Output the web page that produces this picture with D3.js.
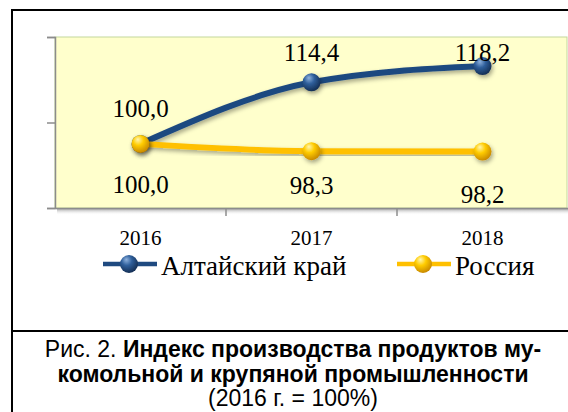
<!DOCTYPE html>
<html>
<head>
<meta charset="utf-8">
<script src="https://cdn.jsdelivr.net/npm/d3@7"></script>
<style>
  body { margin: 0; background: #fff; overflow: hidden; }
  svg { display: block; }
</style>
</head>
<body>
<div id="chart"></div>
<script>
// data
const years = ['2016', '2017', '2018'];
const altai = [100.0, 114.4, 118.2];
const russia = [100.0, 98.3, 98.2];
const seriesNames = ['Алтайский край', 'Россия'];
const yTicks = [85, 105, 125];

// label nudges (px from marker, baseline)
const altaiLabelDy = [-27, -21, -5];
const russiaLabelDy = [49, 43, 51];

const W = 568, H = 412;
const svg = d3.select('#chart').append('svg')
    .attr('width', W)
    .attr('height', H);

const defs = svg.append('defs');

function sphere(id, light, mid, dark) {
    const g = defs.append('radialGradient')
        .attr('id', id)
        .attr('cx', '40%').attr('cy', '35%').attr('r', '65%')
        .attr('fx', '35%').attr('fy', '25%');
    g.append('stop').attr('offset', '0%').attr('stop-color', light);
    g.append('stop').attr('offset', '45%').attr('stop-color', mid);
    g.append('stop').attr('offset', '100%').attr('stop-color', dark);
}
sphere('blueBall', '#8fb2de', '#2f5f9b', '#142f55');
sphere('yellowBall', '#fff6b0', '#ffcc00', '#c98a00');

const shadow = defs.append('filter').attr('id', 'shadow')
    .attr('x', '-50%').attr('y', '-50%').attr('width', '200%').attr('height', '200%');
shadow.append('feDropShadow')
    .attr('dx', 1.5).attr('dy', 2.5).attr('stdDeviation', 2)
    .attr('flood-color', '#000').attr('flood-opacity', 0.35);

const axShadow = defs.append('linearGradient').attr('id', 'axShadow')
    .attr('x1', 0).attr('y1', 0).attr('x2', 0).attr('y2', 1);
axShadow.append('stop').attr('offset', '0%').attr('stop-color', '#999').attr('stop-opacity', 0.8);
axShadow.append('stop').attr('offset', '100%').attr('stop-color', '#fff').attr('stop-opacity', 0);

// outer frame
svg.append('path')
    .attr('d', 'M12,' + (H + 5) + 'V10H' + (W + 5))
    .attr('fill', 'none')
    .attr('stroke', '#000')
    .attr('stroke-width', 2);
svg.append('line')
    .attr('x1', 12).attr('x2', W + 5)
    .attr('y1', 331).attr('y2', 331)
    .attr('stroke', '#000')
    .attr('stroke-width', 2);

// plot area
const plot = { left: 55, right: 567, top: 37, bottom: 208 };

const x = d3.scaleBand()
    .domain(years)
    .range([plot.left, plot.left + 3 * 171])
    .padding(0);

const y = d3.scaleLinear()
    .domain([85, 125])
    .range([plot.bottom, plot.top]);

svg.append('rect')
    .attr('x', plot.left).attr('y', plot.top)
    .attr('width', plot.right - plot.left)
    .attr('height', plot.bottom - plot.top)
    .attr('fill', '#ffffcc')
    .attr('stroke', '#c4d79b')
    .attr('stroke-width', 1);

// shadow under axes
svg.append('rect')
    .attr('x', plot.left + 2).attr('y', plot.bottom + 1)
    .attr('width', plot.right - plot.left)
    .attr('height', 6)
    .attr('fill', 'url(#axShadow)');

// y axis, ticks only
const yAxis = svg.append('g')
    .attr('transform', 'translate(' + plot.left + ',0)')
    .call(d3.axisLeft(y).tickValues(yTicks).tickSize(8).tickFormat(''));
yAxis.selectAll('path, line').attr('stroke', '#8c8c8c').attr('stroke-width', 1.5);

// x axis with ticks between categories
const xAxis = svg.append('g')
    .attr('transform', 'translate(0,' + plot.bottom + ')')
    .call(d3.axisBottom(x).tickSize(0).tickPadding(22));
xAxis.select('.domain').attr('stroke', '#8c8c8c').attr('stroke-width', 1.5);
xAxis.selectAll('text')
    .attr('font-family', '"Liberation Serif", "Times New Roman", serif')
    .attr('font-size', 21)
    .attr('fill', '#000');
xAxis.selectAll('.between')
    .data(years.slice(1))
    .enter().append('line')
    .attr('x1', d => x(d)).attr('x2', d => x(d))
    .attr('y1', 0).attr('y2', 8)
    .attr('stroke', '#8c8c8c')
    .attr('stroke-width', 1.5);

const cx = d => x(d) + x.bandwidth() / 2;

const line = d3.line()
    .x((d, i) => cx(years[i]))
    .y(d => y(d))
    .curve(d3.curveMonotoneX);

const series = [
    { name: seriesNames[0], values: altai, color: '#1f4a80', ball: 'url(#blueBall)', dy: altaiLabelDy },
    { name: seriesNames[1], values: russia, color: '#ffc000', ball: 'url(#yellowBall)', dy: russiaLabelDy }
];

series.forEach(s => {
    svg.append('path')
        .datum(s.values)
        .attr('d', line)
        .attr('fill', 'none')
        .attr('stroke', s.color)
        .attr('stroke-width', 6)
        .attr('stroke-linecap', 'round')
        .attr('filter', 'url(#shadow)');
});

series.forEach(s => {
    svg.append('g')
        .selectAll('circle')
        .data(s.values)
        .enter().append('circle')
        .attr('cx', (d, i) => cx(years[i]))
        .attr('cy', d => y(d))
        .attr('r', 9)
        .attr('fill', s.ball)
        .attr('filter', 'url(#shadow)');
});

series.forEach(s => {
    svg.append('g')
        .selectAll('text')
        .data(s.values)
        .enter().append('text')
        .attr('x', (d, i) => cx(years[i]))
        .attr('y', (d, i) => y(d) + s.dy[i])
        .attr('text-anchor', 'middle')
        .attr('font-family', '"Liberation Serif", "Times New Roman", serif')
        .attr('font-size', 25)
        .attr('fill', '#000')
        .text(d => d.toFixed(1).replace('.', ','));
});

// legend
const legendItems = [
    { s: series[0], x: 103 },
    { s: series[1], x: 397 }
];
const legend = svg.append('g');
legendItems.forEach(li => {
    const g = legend.append('g').attr('transform', 'translate(' + li.x + ',264)');
    g.append('line')
        .attr('x1', 0).attr('x2', 54)
        .attr('stroke', li.s.color)
        .attr('stroke-width', 4.5);
    g.append('circle')
        .attr('cx', 26).attr('r', 9)
        .attr('fill', li.s.ball);
    g.append('text')
        .attr('x', 58).attr('y', 11)
        .attr('font-family', '"Liberation Serif", "Times New Roman", serif')
        .attr('font-size', 27)
        .attr('fill', '#000')
        .text(li.s.name);
});

// caption
const cap = svg.append('text')
    .attr('text-anchor', 'middle')
    .attr('font-family', '"Liberation Sans", Arial, sans-serif')
    .attr('font-size', 23)
    .attr('fill', '#000');
const l1 = cap.append('tspan').attr('x', 293).attr('y', 357);
l1.append('tspan').text('Рис. 2. ');
l1.append('tspan').attr('font-weight', 'bold').text('Индекс производства продуктов му-');
cap.append('tspan').attr('x', 293).attr('y', 382)
    .attr('font-weight', 'bold')
    .text('комольной и крупяной промышленности');
cap.append('tspan').attr('x', 293).attr('y', 406)
    .text('(2016 г. = 100%)');
</script>
</body>
</html>
